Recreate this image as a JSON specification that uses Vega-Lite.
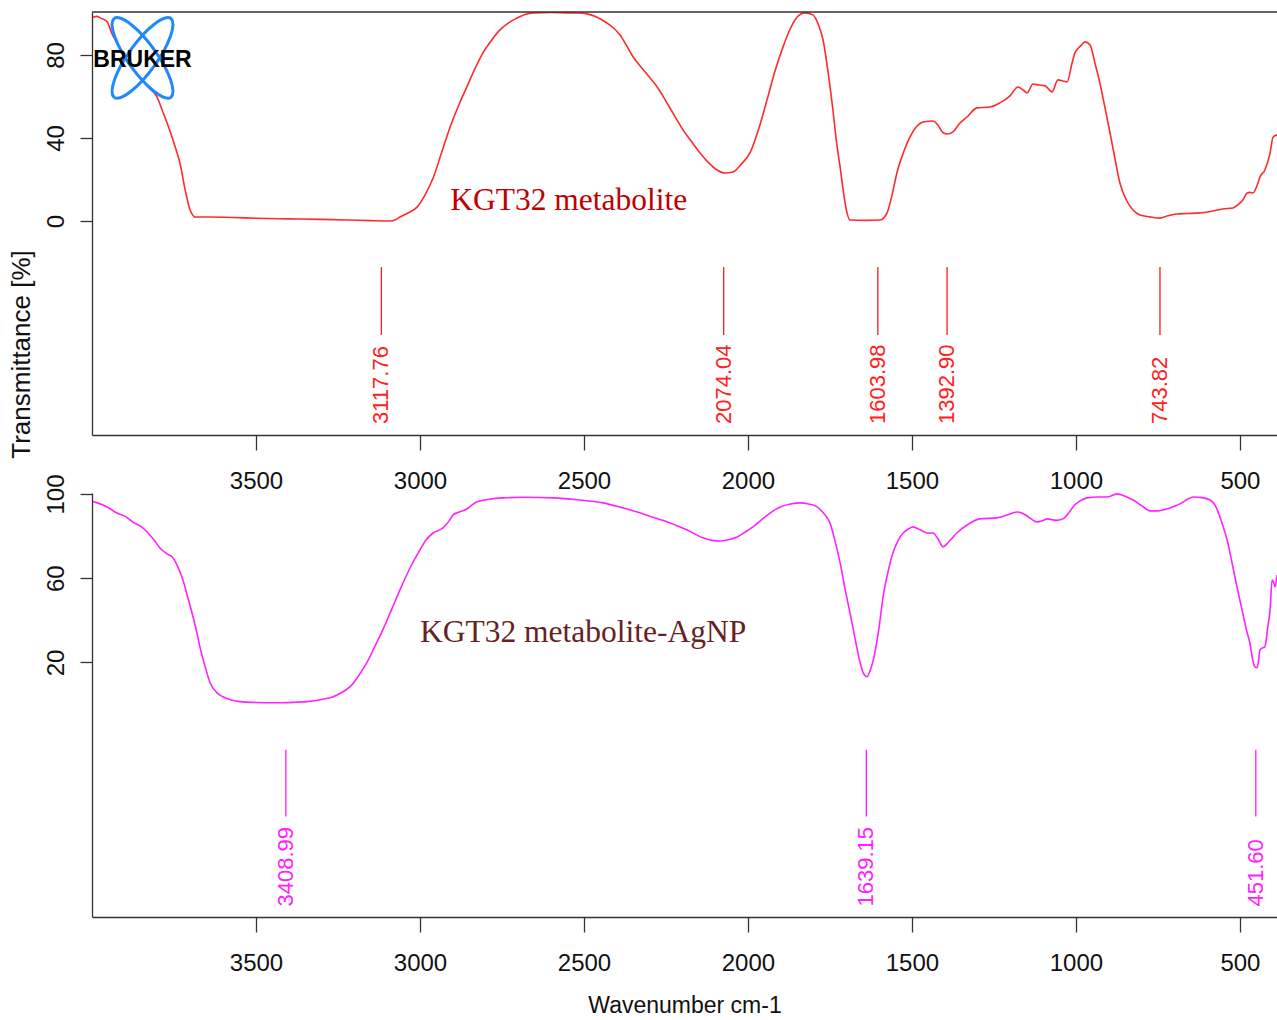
{
  "$schema": "https://vega.github.io/schema/vega-lite/v6.json",
  "padding": {"left": 8, "top": 11, "right": 0, "bottom": 0},
  "config": {
    "view": {"stroke": null},
    "font": "Liberation Sans",
    "axis": {"domainColor": "#333333", "tickColor": "#333333", "labelColor": "#111111", "titleColor": "#111111", "grid": false, "titleFontWeight": "normal", "domainWidth": 1.3, "tickWidth": 1.3}
  },
  "datasets": {
    "top": [
      {"wn": 3997, "t": 98.2}, {"wn": 3985, "t": 98.6}, {"wn": 3970, "t": 97.5}, {"wn": 3954, "t": 96.0},
      {"wn": 3940, "t": 90.5}, {"wn": 3924, "t": 85.8}, {"wn": 3890, "t": 76.0}, {"wn": 3854, "t": 69.4},
      {"wn": 3825, "t": 64.0}, {"wn": 3802, "t": 59.8}, {"wn": 3785, "t": 53.0}, {"wn": 3771, "t": 47.2},
      {"wn": 3753, "t": 39.0}, {"wn": 3740, "t": 32.5}, {"wn": 3732, "t": 28.0}, {"wn": 3716, "t": 15.0},
      {"wn": 3701, "t": 5.3}, {"wn": 3690, "t": 2.3}, {"wn": 3686, "t": 1.9}, {"wn": 3640, "t": 1.9},
      {"wn": 3570, "t": 1.7}, {"wn": 3500, "t": 1.3}, {"wn": 3430, "t": 1.1}, {"wn": 3366, "t": 1.0},
      {"wn": 3300, "t": 0.8}, {"wn": 3220, "t": 0.5}, {"wn": 3150, "t": 0.2}, {"wn": 3091, "t": 0.0},
      {"wn": 3075, "t": 0.6}, {"wn": 3061, "t": 1.9}, {"wn": 3035, "t": 4.0}, {"wn": 3009, "t": 6.7},
      {"wn": 2985, "t": 12.5}, {"wn": 2960, "t": 20.7}, {"wn": 2935, "t": 32.5}, {"wn": 2908, "t": 45.3},
      {"wn": 2880, "t": 56.5}, {"wn": 2857, "t": 64.6}, {"wn": 2832, "t": 73.5}, {"wn": 2808, "t": 81.0},
      {"wn": 2780, "t": 87.5}, {"wn": 2756, "t": 92.1}, {"wn": 2730, "t": 95.5}, {"wn": 2704, "t": 97.8},
      {"wn": 2680, "t": 99.5}, {"wn": 2655, "t": 100.3}, {"wn": 2600, "t": 100.5}, {"wn": 2552, "t": 100.3},
      {"wn": 2520, "t": 100.2}, {"wn": 2491, "t": 99.8}, {"wn": 2460, "t": 98.2}, {"wn": 2430, "t": 95.4},
      {"wn": 2410, "t": 93.0}, {"wn": 2390, "t": 89.6}, {"wn": 2370, "t": 84.5}, {"wn": 2350, "t": 79.0},
      {"wn": 2325, "t": 74.0}, {"wn": 2299, "t": 69.0}, {"wn": 2272, "t": 63.5}, {"wn": 2247, "t": 56.9},
      {"wn": 2222, "t": 50.2}, {"wn": 2198, "t": 43.9}, {"wn": 2170, "t": 37.8}, {"wn": 2146, "t": 32.8},
      {"wn": 2118, "t": 27.8}, {"wn": 2094, "t": 24.6}, {"wn": 2070, "t": 23.1}, {"wn": 2046, "t": 23.6},
      {"wn": 2020, "t": 27.5}, {"wn": 1994, "t": 32.8}, {"wn": 1968, "t": 44.0}, {"wn": 1942, "t": 58.3},
      {"wn": 1918, "t": 72.0}, {"wn": 1893, "t": 83.9}, {"wn": 1870, "t": 93.0}, {"wn": 1850, "t": 98.3},
      {"wn": 1826, "t": 100.3}, {"wn": 1802, "t": 99.3}, {"wn": 1785, "t": 94.5}, {"wn": 1771, "t": 87.2},
      {"wn": 1756, "t": 72.0}, {"wn": 1741, "t": 53.5}, {"wn": 1730, "t": 38.0}, {"wn": 1719, "t": 26.0},
      {"wn": 1708, "t": 13.0}, {"wn": 1698, "t": 3.9}, {"wn": 1689, "t": 0.5}, {"wn": 1640, "t": 0.3},
      {"wn": 1597, "t": 0.5}, {"wn": 1576, "t": 3.9}, {"wn": 1560, "t": 13.0}, {"wn": 1546, "t": 23.1},
      {"wn": 1526, "t": 33.0}, {"wn": 1506, "t": 40.5}, {"wn": 1486, "t": 45.5}, {"wn": 1466, "t": 47.7},
      {"wn": 1436, "t": 48.2}, {"wn": 1421, "t": 46.3}, {"wn": 1405, "t": 42.5}, {"wn": 1393, "t": 41.9},
      {"wn": 1375, "t": 42.9}, {"wn": 1355, "t": 47.0}, {"wn": 1332, "t": 50.1}, {"wn": 1302, "t": 54.5},
      {"wn": 1262, "t": 54.9}, {"wn": 1232, "t": 56.9}, {"wn": 1201, "t": 60.3}, {"wn": 1177, "t": 64.6},
      {"wn": 1160, "t": 63.0}, {"wn": 1149, "t": 61.7}, {"wn": 1131, "t": 66.0}, {"wn": 1112, "t": 65.5},
      {"wn": 1094, "t": 65.1}, {"wn": 1073, "t": 62.2}, {"wn": 1055, "t": 68.0}, {"wn": 1040, "t": 67.5},
      {"wn": 1027, "t": 67.0}, {"wn": 1012, "t": 76.0}, {"wn": 1003, "t": 81.0}, {"wn": 985, "t": 84.5},
      {"wn": 972, "t": 86.3}, {"wn": 957, "t": 84.8}, {"wn": 942, "t": 76.0}, {"wn": 927, "t": 66.5},
      {"wn": 912, "t": 55.0}, {"wn": 896, "t": 42.4}, {"wn": 881, "t": 30.0}, {"wn": 866, "t": 18.3},
      {"wn": 846, "t": 10.0}, {"wn": 826, "t": 5.3}, {"wn": 805, "t": 2.9}, {"wn": 775, "t": 2.0},
      {"wn": 744, "t": 1.4}, {"wn": 720, "t": 2.5}, {"wn": 692, "t": 3.4}, {"wn": 660, "t": 3.6},
      {"wn": 622, "t": 3.9}, {"wn": 590, "t": 4.6}, {"wn": 552, "t": 5.8}, {"wn": 521, "t": 6.3},
      {"wn": 505, "t": 8.0}, {"wn": 491, "t": 10.1}, {"wn": 478, "t": 13.5}, {"wn": 470, "t": 13.8},
      {"wn": 460, "t": 13.5}, {"wn": 448, "t": 17.0}, {"wn": 439, "t": 21.2}, {"wn": 424, "t": 24.6},
      {"wn": 408, "t": 32.8}, {"wn": 399, "t": 40.5}, {"wn": 387, "t": 41.5}
    ],
    "bottom": [
      {"wn": 3997, "t": 96.4}, {"wn": 3970, "t": 95.0}, {"wn": 3950, "t": 93.5}, {"wn": 3924, "t": 91.0},
      {"wn": 3900, "t": 89.5}, {"wn": 3875, "t": 86.7}, {"wn": 3850, "t": 84.5}, {"wn": 3832, "t": 82.0},
      {"wn": 3810, "t": 78.0}, {"wn": 3793, "t": 74.4}, {"wn": 3770, "t": 71.5}, {"wn": 3756, "t": 70.2},
      {"wn": 3740, "t": 66.0}, {"wn": 3723, "t": 59.3}, {"wn": 3708, "t": 51.0}, {"wn": 3692, "t": 41.7},
      {"wn": 3680, "t": 34.0}, {"wn": 3671, "t": 27.4}, {"wn": 3655, "t": 18.0}, {"wn": 3640, "t": 10.4},
      {"wn": 3620, "t": 5.8}, {"wn": 3601, "t": 3.7}, {"wn": 3575, "t": 2.2}, {"wn": 3549, "t": 1.4},
      {"wn": 3500, "t": 1.0}, {"wn": 3450, "t": 0.9}, {"wn": 3418, "t": 0.9}, {"wn": 3380, "t": 1.1},
      {"wn": 3344, "t": 1.4}, {"wn": 3300, "t": 2.4}, {"wn": 3265, "t": 3.7}, {"wn": 3240, "t": 5.6},
      {"wn": 3213, "t": 8.5}, {"wn": 3190, "t": 13.0}, {"wn": 3162, "t": 19.9}, {"wn": 3138, "t": 27.5},
      {"wn": 3113, "t": 35.6}, {"wn": 3087, "t": 45.0}, {"wn": 3061, "t": 54.5}, {"wn": 3030, "t": 65.0},
      {"wn": 3000, "t": 73.5}, {"wn": 2980, "t": 78.5}, {"wn": 2960, "t": 81.5}, {"wn": 2930, "t": 83.9},
      {"wn": 2910, "t": 87.5}, {"wn": 2899, "t": 90.1}, {"wn": 2880, "t": 91.5}, {"wn": 2857, "t": 92.9},
      {"wn": 2840, "t": 95.0}, {"wn": 2826, "t": 96.3}, {"wn": 2790, "t": 97.5}, {"wn": 2747, "t": 98.2},
      {"wn": 2680, "t": 98.5}, {"wn": 2594, "t": 98.2}, {"wn": 2520, "t": 97.3}, {"wn": 2442, "t": 95.8},
      {"wn": 2390, "t": 93.8}, {"wn": 2338, "t": 91.5}, {"wn": 2290, "t": 89.0}, {"wn": 2237, "t": 86.3},
      {"wn": 2187, "t": 83.0}, {"wn": 2137, "t": 79.2}, {"wn": 2110, "t": 78.0}, {"wn": 2085, "t": 77.7},
      {"wn": 2060, "t": 78.3}, {"wn": 2033, "t": 79.6}, {"wn": 2010, "t": 81.8}, {"wn": 1985, "t": 84.4},
      {"wn": 1945, "t": 89.5}, {"wn": 1902, "t": 93.9}, {"wn": 1870, "t": 95.3}, {"wn": 1841, "t": 95.8},
      {"wn": 1815, "t": 95.3}, {"wn": 1789, "t": 93.9}, {"wn": 1770, "t": 91.0}, {"wn": 1750, "t": 86.3},
      {"wn": 1735, "t": 78.0}, {"wn": 1719, "t": 67.3}, {"wn": 1704, "t": 55.0}, {"wn": 1689, "t": 43.6},
      {"wn": 1673, "t": 31.0}, {"wn": 1658, "t": 19.9}, {"wn": 1645, "t": 14.0}, {"wn": 1637, "t": 13.2},
      {"wn": 1628, "t": 16.0}, {"wn": 1613, "t": 24.6}, {"wn": 1600, "t": 37.0}, {"wn": 1588, "t": 51.2},
      {"wn": 1573, "t": 63.0}, {"wn": 1558, "t": 72.1}, {"wn": 1542, "t": 78.0}, {"wn": 1527, "t": 81.5},
      {"wn": 1510, "t": 83.5}, {"wn": 1497, "t": 84.4}, {"wn": 1475, "t": 83.0}, {"wn": 1454, "t": 81.5},
      {"wn": 1436, "t": 81.5}, {"wn": 1420, "t": 78.5}, {"wn": 1405, "t": 74.9}, {"wn": 1390, "t": 77.0},
      {"wn": 1375, "t": 79.5}, {"wn": 1363, "t": 81.5}, {"wn": 1332, "t": 85.3}, {"wn": 1293, "t": 88.2},
      {"wn": 1241, "t": 88.7}, {"wn": 1210, "t": 90.0}, {"wn": 1180, "t": 91.5}, {"wn": 1165, "t": 91.0},
      {"wn": 1149, "t": 89.6}, {"wn": 1119, "t": 86.8}, {"wn": 1100, "t": 87.5}, {"wn": 1088, "t": 88.2},
      {"wn": 1060, "t": 87.5}, {"wn": 1040, "t": 88.2}, {"wn": 1020, "t": 91.5}, {"wn": 1009, "t": 93.9},
      {"wn": 990, "t": 96.5}, {"wn": 966, "t": 98.2}, {"wn": 935, "t": 98.6}, {"wn": 905, "t": 98.6},
      {"wn": 875, "t": 100.1}, {"wn": 850, "t": 99.0}, {"wn": 826, "t": 97.2}, {"wn": 800, "t": 94.5},
      {"wn": 774, "t": 92.0}, {"wn": 750, "t": 92.0}, {"wn": 722, "t": 92.9}, {"wn": 700, "t": 94.2},
      {"wn": 677, "t": 95.8}, {"wn": 660, "t": 97.5}, {"wn": 643, "t": 98.6}, {"wn": 615, "t": 98.3},
      {"wn": 591, "t": 97.2}, {"wn": 575, "t": 94.5}, {"wn": 561, "t": 89.1}, {"wn": 550, "t": 84.0},
      {"wn": 539, "t": 78.2}, {"wn": 525, "t": 68.0}, {"wn": 509, "t": 55.9}, {"wn": 495, "t": 46.0},
      {"wn": 478, "t": 34.1}, {"wn": 470, "t": 29.5}, {"wn": 462, "t": 22.0}, {"wn": 455, "t": 18.0},
      {"wn": 448, "t": 17.5}, {"wn": 443, "t": 21.0}, {"wn": 439, "t": 26.0}, {"wn": 430, "t": 27.0},
      {"wn": 424, "t": 27.4}, {"wn": 415, "t": 36.9}, {"wn": 408, "t": 45.0}, {"wn": 402, "t": 59.2},
      {"wn": 397, "t": 58.0}, {"wn": 393, "t": 55.9}, {"wn": 387, "t": 61.6}
    ],
    "peaksTop": [
      {"wn": 3117.76, "label": "3117.76"}, {"wn": 2074.04, "label": "2074.04"},
      {"wn": 1603.98, "label": "1603.98"}, {"wn": 1392.90, "label": "1392.90"},
      {"wn": 743.82, "label": "743.82"}
    ],
    "peaksBottom": [
      {"wn": 3408.99, "label": "3408.99"}, {"wn": 1639.15, "label": "1639.15"},
      {"wn": 451.60, "label": "451.60"}
    ]
  },
  "bounds": "flush",
  "spacing": 58,
  "resolve": {"scale": {"x": "independent", "y": "independent"}},
  "vconcat": [
    {
      "width": 1185,
      "height": 423,
      "layer": [
        {
          "data": {"name": "top"},
          "mark": {"type": "line", "color": "#ff2a2a", "strokeWidth": 1.6, "clip": true, "interpolate": "monotone"},
          "encoding": {
            "x": {"field": "wn", "type": "quantitative",
              "scale": {"domain": [4000, 387], "nice": false, "zero": false},
              "axis": {"orient": "bottom", "values": [3500, 3000, 2500, 2000, 1500, 1000, 500], "format": "d", "title": null,
                "tickSize": 15, "labelPadding": 19, "labelFont": "Liberation Sans", "labelFontSize": 24,
                "labelBaseline": "top", "labelFlush": false, "labelOverlap": false}},
            "y": {"field": "t", "type": "quantitative",
              "scale": {"domain": [-103.1, 100.7], "nice": false, "zero": false},
              "axis": {"values": [0, 40, 80], "format": "d", "tickSize": 12, "labelPadding": 17, "labelAngle": 270,
                "labelAlign": "center", "labelBaseline": "alphabetic", "labelFontSize": 24,
                "title": "Transmittance [%]", "titleFontSize": 26, "titleAngle": 270, "titleX": -63, "titleY": 342,
                "titleAlign": "center", "titleBaseline": "alphabetic"}},
            "order": {"field": "wn", "sort": "descending"}
          }
        },
        {
          "data": {"values": [{"edge": "top"}]},
          "mark": {"type": "rule", "color": "#333333", "strokeWidth": 1.3},
          "encoding": {
            "y": {"datum": 100.7}
          }
        },
        {
          "data": {"name": "peaksTop"},
          "mark": {"type": "rule", "color": "#ff1a1a", "strokeWidth": 1.3},
          "encoding": {
            "x": {"field": "wn", "type": "quantitative"},
            "y": {"datum": -22.2},
            "y2": {"datum": -54.9}
          }
        },
        {
          "data": {"name": "peaksTop"},
          "mark": {"type": "text", "color": "#ff2020", "fontSize": 22, "angle": 270, "align": "left", "baseline": "middle"},
          "encoding": {
            "x": {"field": "wn", "type": "quantitative"},
            "y": {"datum": -97.8},
            "text": {"field": "label"}
          }
        },
        {
          "data": {"values": [{"name": "KGT32 metabolite"}]},
          "mark": {"type": "text", "color": "#c00000", "font": "Liberation Serif", "fontSize": 31.5, "align": "left", "baseline": "alphabetic"},
          "encoding": {
            "x": {"datum": 2908},
            "y": {"datum": 5.3},
            "text": {"field": "name"}
          }
        },
        {
          "data": {"values": [{"name": "BRUKER"}]},
          "mark": {"type": "point", "filled": false, "stroke": "#1e88ff", "strokeWidth": 3, "opacity": 1, "size": 8100,
            "shape": "M -0.63 -0.88 A 1.083 0.33 54.4 0 1 0.63 0.88 A 1.083 0.33 54.4 0 1 -0.63 -0.88 M -0.63 0.88 A 1.083 0.33 -54.4 0 1 0.63 -0.88 A 1.083 0.33 -54.4 0 1 -0.63 0.88"},
          "encoding": {
            "x": {"datum": 3846},
            "y": {"datum": 78.6}
          }
        },
        {
          "data": {"values": [{"name": "BRUKER"}]},
          "mark": {"type": "text", "color": "#000000", "font": "Liberation Sans", "fontWeight": "bold", "fontSize": 23, "align": "center", "baseline": "middle"},
          "encoding": {
            "x": {"datum": 3846},
            "y": {"datum": 77.6},
            "text": {"field": "name"}
          }
        }
      ]
    },
    {
      "width": 1185,
      "height": 424,
      "layer": [
        {
          "data": {"name": "bottom"},
          "mark": {"type": "line", "color": "#ff22ff", "strokeWidth": 1.6, "clip": true, "interpolate": "monotone"},
          "encoding": {
            "x": {"field": "wn", "type": "quantitative",
              "scale": {"domain": [4000, 387], "nice": false, "zero": false},
              "axis": {"orient": "bottom", "values": [3500, 3000, 2500, 2000, 1500, 1000, 500], "format": "d",
                "title": "Wavenumber cm-1", "titleFont": "Liberation Sans", "titleFontSize": 23, "titlePadding": 19,
                "tickSize": 15, "labelPadding": 19, "labelFont": "Liberation Sans", "labelFontSize": 24,
                "labelBaseline": "top", "labelFlush": false, "labelOverlap": false}},
            "y": {"field": "t", "type": "quantitative",
              "scale": {"domain": [-100.9, 100.5], "nice": false, "zero": false},
              "axis": {"values": [20, 60, 100], "format": "d", "tickSize": 12, "labelPadding": 17, "labelAngle": 270,
                "labelAlign": "center", "labelBaseline": "alphabetic", "labelFontSize": 24, "title": null}},
            "order": {"field": "wn", "sort": "descending"}
          }
        },
        {
          "data": {"name": "peaksBottom"},
          "mark": {"type": "rule", "color": "#ff1aff", "strokeWidth": 1.3},
          "encoding": {
            "x": {"field": "wn", "type": "quantitative"},
            "y": {"datum": -21.4},
            "y2": {"datum": -53.2}
          }
        },
        {
          "data": {"name": "peaksBottom"},
          "mark": {"type": "text", "color": "#ff20ff", "fontSize": 22, "angle": 270, "align": "left", "baseline": "middle"},
          "encoding": {
            "x": {"field": "wn", "type": "quantitative"},
            "y": {"datum": -95.9},
            "text": {"field": "label"}
          }
        },
        {
          "data": {"values": [{"name": "KGT32 metabolite-AgNP"}]},
          "mark": {"type": "text", "color": "#662222", "font": "Liberation Serif", "fontSize": 31.5, "align": "left", "baseline": "alphabetic"},
          "encoding": {
            "x": {"datum": 3000},
            "y": {"datum": 29.8},
            "text": {"field": "name"}
          }
        }
      ]
    }
  ]
}
